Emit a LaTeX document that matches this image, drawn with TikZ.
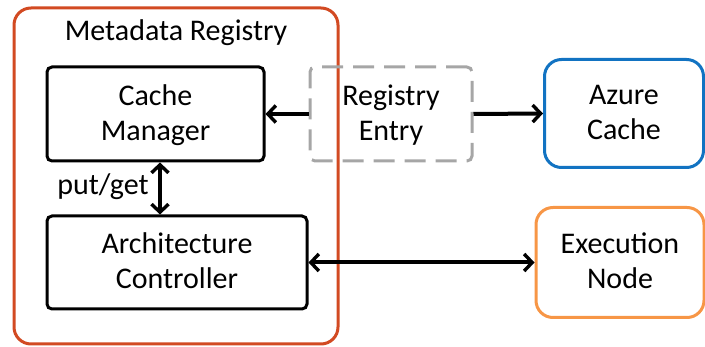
\documentclass[tikz,border=0pt]{standalone}
\usepackage{fontspec}
\setmainfont{Carlito}
\usetikzlibrary{arrows.meta}
\definecolor{regred}{HTML}{D24A22}
\definecolor{azblue}{HTML}{1273C2}
\definecolor{exorange}{HTML}{F79646}
\definecolor{dashgray}{HTML}{A6A6A6}
\tikzset{
  txt/.style={font=\fontsize{30}{35}\selectfont},
  blk/.style={txt, draw=black, line width=3pt, rounded corners=5pt, align=center, inner sep=0pt},
  ext/.style={txt, line width=3pt, rounded corners=17pt, align=center, inner sep=0pt},
  conn/.style={line width=4pt, {Straight Barb[length=8pt,width=17pt,line width=3.4pt]}-{Straight Barb[length=8pt,width=17pt,line width=3.4pt]}},
  conn1/.style={line width=4pt, -{Straight Barb[length=8pt,width=17pt,line width=3.4pt]}},
}
\begin{document}
\begin{tikzpicture}[x=1pt,y=-1pt]
\useasboundingbox (0,0) rectangle (705,347);
% outer registry box
\draw[regred, line width=3pt, rounded corners=17pt] (14,8) rectangle (338,344);
\node[txt, anchor=center] (title) at (176,33) {Metadata Registry};
\node[blk, minimum width=217pt, minimum height=94pt, text depth=3pt] (cm) at (155.5,114) {Cache\\Manager};
\node[blk, minimum width=260pt, minimum height=93pt, text depth=3pt] (ac) at (177,262.5) {Architecture\\Controller};
\node[blk, draw=dashgray, dash pattern=on 21pt off 10pt, minimum width=162pt, minimum height=94pt, text depth=3pt] (re) at (391,114) {Registry\\Entry};
\node[ext, draw=azblue, minimum width=159pt, minimum height=108pt, text depth=3pt] (az) at (624,113.5) {Azure\\Cache};
\node[ext, draw=exorange, minimum width=168pt, minimum height=110pt, text depth=3pt] (ex) at (620,262.5) {Execution\\Node};
\draw[conn1] (re.west) -- (cm.east);
\draw[conn1] (re.east) -- (az.west);
\draw[conn] (cm.south -| 160,0) -- (ac.north -| 160,0);
\node[txt] (pg) at (103,187) {put/get};
\draw[conn] (ac.east) -- (ex.west);
\end{tikzpicture}
\end{document}
